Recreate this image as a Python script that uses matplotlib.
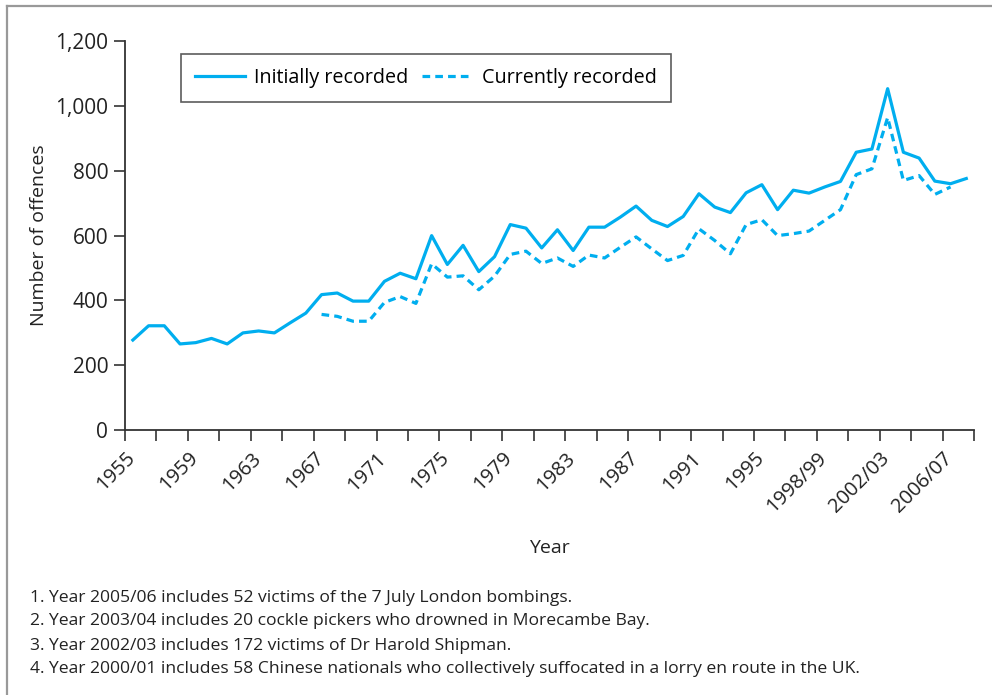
import numpy as np
import matplotlib
matplotlib.use("Agg")
import matplotlib.pyplot as plt
from matplotlib.lines import Line2D
from matplotlib.ticker import FuncFormatter

plt.rcParams['font.family'] = ['Open Sans', 'DejaVu Sans']

# values, one point per year from 1955
initially = [278, 322, 322, 266, 270, 283, 266, 300, 306, 300,
             331, 361, 418, 423, 398, 398, 459, 484, 467, 600,
             511, 570, 489, 535, 634, 623, 562, 618, 554, 626,
             626, 657, 691, 647, 628, 659, 729, 688, 671, 732,
             757, 680, 740, 731, 750, 767, 857, 867, 1053, 857,
             839, 768, 760, 776]
# currently recorded series starts 12 years in (1967)
current_start = 12
currently = [357, 351, 336, 336, 394, 412, 391, 513, 472, 476,
             433, 475, 542, 552, 514, 531, 505, 540, 531, 564,
             596, 559, 523, 539, 621, 585, 544, 634, 649, 600,
             606, 614, 647, 680, 788, 806, 964, 770, 785, 727,
             750]
tick_labels = ['1955', '1959', '1963', '1967', '1971', '1975', '1979',
               '1983', '1987', '1991', '1995', '1998/99', '2002/03', '2006/07']
notes = [
    '1. Year 2005/06 includes 52 victims of the 7 July London bombings.',
    '2. Year 2003/04 includes 20 cockle pickers who drowned in Morecambe Bay.',
    '3. Year 2002/03 includes 172 victims of Dr Harold Shipman.',
    '4. Year 2000/01 includes 58 Chinese nationals who collectively suffocated in a lorry en route in the UK.',
]

blue = '#00AEEF'
dark = '#333333'
txt = '#222222'

x_init = np.arange(len(initially)) + 0.5
x_curr = np.arange(len(currently)) + current_start + 0.5

fig = plt.figure(figsize=(9.92, 6.95), dpi=100)
ax = fig.add_axes([0.126, 0.381, 0.856, 0.560])

ax.plot(x_init, initially, color=blue, lw=2.3, label='Initially recorded')
ax.plot(x_curr, currently, color=blue, lw=2.3, linestyle=(0, (2.4, 1.6)),
        label='Currently recorded')

ax.set_xlim(0, 54)
ax.set_ylim(0, 1200)
ax.set_yticks(range(0, 1201, 200))
ax.yaxis.set_major_formatter(FuncFormatter(lambda v, p: f'{int(v):,}'))

xt = np.arange(0, 55, 2)
ax.set_xticks(xt)
labs = []
for i, t in enumerate(xt):
    labs.append(tick_labels[i // 2] if i % 2 == 0 and i // 2 < len(tick_labels) else '')
ax.set_xticklabels(labs, rotation=45, ha='right', rotation_mode='anchor')

for s in ['top', 'right']:
    ax.spines[s].set_visible(False)
for s in ['left', 'bottom']:
    ax.spines[s].set_color(dark)
    ax.spines[s].set_linewidth(1.3)
ax.tick_params(axis='both', direction='out', length=8, width=1.2, color=dark,
               labelsize=15, labelcolor=txt, pad=4)
ax.tick_params(axis='x', labelsize=14.5, pad=5)

ax.set_ylabel('Number of offences', fontsize=14, color=txt, labelpad=5)
ax.set_xlabel('Year', fontsize=14, color=txt, labelpad=16)

leg = ax.legend(loc='upper left', bbox_to_anchor=(0.066, 0.967), ncol=2,
                fontsize=14.2, handlelength=2.5, columnspacing=0.7,
                handletextpad=0.5, fancybox=False, borderpad=0.72,
                borderaxespad=0, frameon=True)
leg.get_frame().set_edgecolor(dark)
leg.get_frame().set_linewidth(1.2)

ys = [0.139, 0.106, 0.071, 0.038]
for t, y in zip(notes, ys):
    fig.text(0.030, y, t, fontsize=12.6, va='center', ha='left', color=txt)

# grey frame on top and left edges
fig.add_artist(Line2D([0.007, 1.0], [0.991, 0.991], transform=fig.transFigure,
                      color='#999999', lw=1.6))
fig.add_artist(Line2D([0.007, 0.007], [0.0, 0.991], transform=fig.transFigure,
                      color='#999999', lw=1.6))

fig.savefig('out.png', dpi=100)
